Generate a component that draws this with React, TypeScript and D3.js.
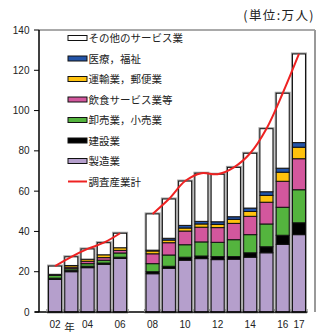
import React from "react";
import * as d3 from "d3";

// Employment by industry (unit: 10,000 persons); 2007 has no survey data.
const years = ["2002","2003","2004","2005","2006","2007","2008","2009","2010","2011","2012","2013","2014","2015","2016","2017"];
const tickYears = ["2002","2004","2006","2008","2010","2012","2014","2016","2017"];
const tickLabels = ["02","04","06","08","10","12","14","16","17"];
const yTicks = [0, 20, 40, 60, 80, 100, 120, 140];

const manufacturing = [16.2, 20.0, 22.0, 23.7, 26.6, null, 19.0, 21.7, 25.7, 26.5, 26.0, 26.2, 27.2, 29.4, 33.6, 38.4];
const construction = [0.6, 0.7, 0.7, 0.6, 0.6, null, 1.0, 1.0, 1.5, 1.3, 1.5, 1.3, 2.2, 3.0, 4.5, 5.9];
const wholesaleRetail = [1.4, 0.8, 1.3, 1.4, 2.1, null, 4.0, 5.6, 6.2, 7.0, 7.1, 8.4, 9.0, 11.3, 13.9, 16.4];
const foodService = [0.3, 0.8, 1.2, 1.3, 1.3, null, 4.9, 6.1, 6.8, 7.3, 7.3, 8.1, 9.1, 10.8, 12.9, 15.4];
const transportPostal = [0.2, 0.8, 1.0, 1.4, 1.3, null, 1.4, 1.3, 1.5, 1.6, 1.6, 2.0, 2.4, 3.4, 4.5, 5.7];
const medicalWelfare = [0, 0, 0, 0, 0, null, 0.4, 0.9, 1.3, 1.3, 1.3, 1.3, 1.7, 1.8, 2.0, 2.3];
const otherServices = [4.1, 4.3, 5.1, 6.0, 7.2, null, 18.0, 19.5, 22.0, 23.9, 23.6, 24.5, 27.2, 31.3, 37.2, 44.0];
const surveyTotal = [22.8, 27.4, 31.3, 34.4, 39.1, null, 48.7, 56.1, 65.0, 68.9, 68.4, 71.8, 78.8, 91.0, 108.6, 128.1];

type Series = { name: string; values: (number | null)[]; color: string };

// bottom-to-top stacking order
const stackSeries: Series[] = [
  { name: "製造業", values: manufacturing, color: "#b59fcc" },
  { name: "建設業", values: construction, color: "#000000" },
  { name: "卸売業，小売業", values: wholesaleRetail, color: "#54b43e" },
  { name: "飲食サービス業等", values: foodService, color: "#d3579d" },
  { name: "運輸業，郵便業", values: transportPostal, color: "#ffc20e" },
  { name: "医療，福祉", values: medicalWelfare, color: "#2354a8" },
  { name: "その他のサービス業", values: otherServices, color: "#ffffff" },
];

const W = 330;
const H = 332;
const plotLeft = 39;
const plotRight = 315;
const plotTop = 30;
const plotBottom = 312;

const NUM_FONT = "'Liberation Sans', Arial, sans-serif";
const JP_FONT = "'Noto Sans CJK JP', sans-serif";

export default function App() {
  const x = d3.scaleBand<string>().domain(years).range([46.9, 307.1]).paddingInner(0.2).paddingOuter(0.1);
  const y = d3.scaleLinear().domain([0, 140]).range([plotBottom, plotTop]);
  const bw = x.bandwidth();
  const step = x.step();

  const bars = years.map((yr, i) => {
    if (surveyTotal[i] == null) return null;
    let base = 0;
    const segs = stackSeries.map((s) => {
      const v = s.values[i] ?? 0;
      const seg = { y0: base, y1: base + v, color: s.color, v };
      base += v;
      return seg;
    });
    return { yr, segs, top: base };
  });

  const line = d3
    .line<number | null>()
    .defined((d) => d != null)
    .x((_, i) => (x(years[i]) as number) + bw / 2)
    .y((d) => y(d as number))
    .curve(d3.curveCatmullRom.alpha(0.5));

  const legendItems = [...stackSeries].reverse();
  const legendY0 = 38;
  const legendStep = 20.5;

  const boundaryTicks = d3.range(years.length + 1).map((i) => 46.9 + i * step);

  return (
    <svg width={W} height={H} style={{ position: "absolute", left: 0, top: 0, background: "#fff" }}>
      <rect x={0} y={0} width={W} height={H} fill="#fff" />
      {/* unit note */}
      <text x={315} y={20} textAnchor="end" fontFamily={JP_FONT} fontSize={12.5} fill="#222" letterSpacing={1.4}>
        (単位:万人)
      </text>

      {/* bars */}
      {bars.map((b) =>
        b == null ? null : (
          <g key={b.yr}>
            <rect
              x={x(b.yr)}
              y={y(b.top)}
              width={bw}
              height={y(0) - y(b.top)}
              fill="none"
              stroke="#a0a0a0"
              strokeWidth={3}
            />
            {b.segs
              .filter((s) => s.v > 0)
              .map((s, j) => (
                <rect
                  key={j}
                  x={x(b.yr)}
                  y={y(s.y1)}
                  width={bw}
                  height={y(s.y0) - y(s.y1)}
                  fill={s.color}
                  stroke="#111"
                  strokeWidth={1}
                />
              ))}
          </g>
        )
      )}

      {/* survey total line */}
      <path d={line(surveyTotal) || ""} fill="none" stroke="#ee2222" strokeWidth={2} />

      {/* frame */}
      <line x1={plotLeft} x2={plotRight} y1={plotTop} y2={plotTop} stroke="#555" strokeWidth={1} />
      <line x1={plotRight} x2={plotRight} y1={plotTop} y2={plotBottom} stroke="#999" strokeWidth={2} />
      <line x1={plotLeft} x2={plotLeft} y1={plotTop} y2={plotBottom} stroke="#000" strokeWidth={1.5} />
      <line x1={plotLeft - 4} x2={307.5} y1={plotBottom} y2={plotBottom} stroke="#000" strokeWidth={1.5} />

      {/* y axis */}
      {yTicks.map((t) => (
        <g key={t}>
          <line x1={plotLeft - 5} x2={plotLeft} y1={y(t)} y2={y(t)} stroke="#000" strokeWidth={1} />
          <text x={29.5} y={y(t) + 3.5} textAnchor="end" fontFamily={NUM_FONT} fontSize={10} fill="#222">
            {t}
          </text>
        </g>
      ))}

      {/* category boundary ticks */}
      {boundaryTicks.map((bx, i) => (
        <line key={i} x1={bx} x2={bx} y1={plotBottom - 3} y2={plotBottom} stroke="#888" strokeWidth={1} />
      ))}

      {/* x labels */}
      {tickYears.map((yr, i) => (
        <text
          key={yr}
          x={(x(yr) as number) + bw / 2}
          y={327.5}
          textAnchor="middle"
          fontFamily={NUM_FONT}
          fontSize={10}
          fill="#222"
        >
          {tickLabels[i]}
        </text>
      ))}
      <text x={69.5} y={330.5} textAnchor="middle" fontFamily={JP_FONT} fontSize={10.5} fill="#222">
        年
      </text>

      {/* legend */}
      {legendItems.map((s, i) => {
        const cy = legendY0 + i * legendStep;
        return (
          <g key={s.name}>
            <rect x={68} y={cy - 2.5} width={19} height={5} fill={s.color} stroke="#111" strokeWidth={1} />
            <text x={88.5} y={cy + 4} fontFamily={JP_FONT} fontSize={10.5} fill="#222">
              {s.name}
            </text>
          </g>
        );
      })}
      {(() => {
        const cy = legendY0 + legendItems.length * legendStep;
        return (
          <g>
            <line x1={68} x2={87} y1={cy} y2={cy} stroke="#ee2222" strokeWidth={2} />
            <text x={88.5} y={cy + 4} fontFamily={JP_FONT} fontSize={10.5} fill="#222">
              調査産業計
            </text>
          </g>
        );
      })()}
    </svg>
  );
}
